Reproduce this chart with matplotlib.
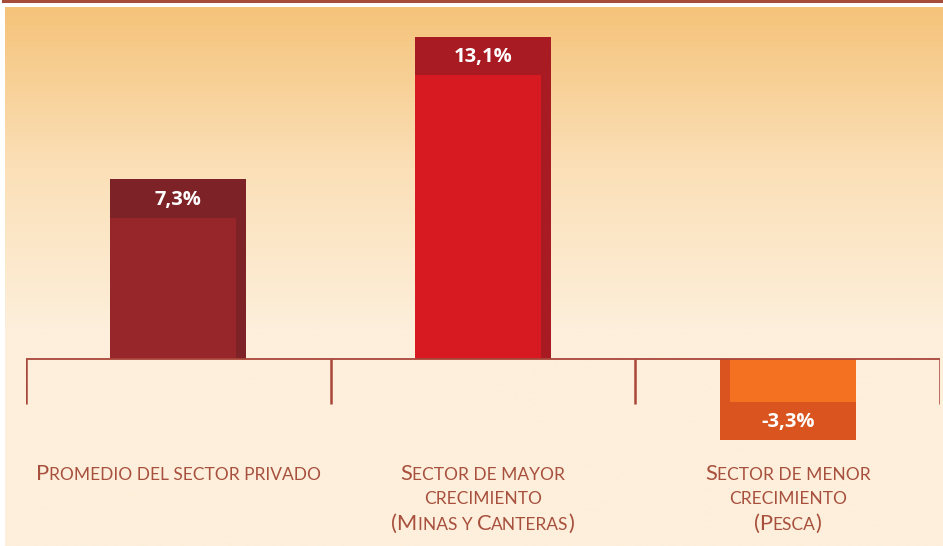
import matplotlib
matplotlib.use("Agg")
import matplotlib.pyplot as plt
import numpy as np
from matplotlib.colors import LinearSegmentedColormap
from matplotlib.offsetbox import TextArea, HPacker, VPacker, AnnotationBbox

# data
labels = [
    ["Promedio del sector privado"],
    ["Sector de mayor", "crecimiento", "(Minas y Canteras)"],
    ["Sector de menor", "crecimiento", "(Pesca)"],
]
values = [7.3, 13.1, -3.3]
value_text = ["7,3%", "13,1%", "-3,3%"]
head_colors = ["#7d2328", "#a81b22", "#da541f"]
body_colors = ["#962629", "#d71a21", "#f37121"]

W, H = 943, 546
fig = plt.figure(figsize=(W / 100, H / 100), dpi=100)
fig.patch.set_facecolor("white")

# background gradient panel
bg = fig.add_axes([5 / W, 0, 938 / W, 539 / H])
bg.set_axis_off()
grad = np.linspace(0, 1, 300).reshape(-1, 1)
grad = np.clip(grad / 0.6, 0, 1)
cmap = LinearSegmentedColormap.from_list("bg", ["#f5c37a", "#fbe0b8", "#fdefdb"])
bg.imshow(grad, aspect="auto", cmap=cmap, extent=[0, 1, 0, 1], origin="upper")
bg.set_xlim(0, 1)
bg.set_ylim(0, 1)

# top rule
fig.add_artist(plt.Line2D([3 / W, 1], [1 - 1.2 / H, 1 - 1.2 / H],
                          color="#a64c3b", lw=2.2))

# main axes, zero line at y=359 px, 24.6 px per unit
ppu = 24.6
zero_px = H - 359
ax = fig.add_axes([26 / W, 0, 914 / W, 1])
ax.set_axis_off()
ax.patch.set_alpha(0)
ax.set_xlim(-0.5, 2.5)
ax.set_ylim(-zero_px / ppu, (H - zero_px) / ppu)

x = np.arange(len(values))
width = 136 / 304.7
strip = 10 / 304.7
band = 38.5 / ppu

for xi, v, hc, bc, t in zip(x, values, head_colors, body_colors, value_text):
    s = np.sign(v)
    ax.bar(xi, v, width=width, color=hc, linewidth=0, zorder=2)
    ax.bar(xi - s * strip / 2, v - s * band, width=width - strip,
           color=bc, linewidth=0, zorder=3)
    ax.text(xi, v - s * band / 2 - 0.06, t, color="white", fontsize=14.5,
            fontweight="bold", family="Open Sans", ha="center",
            va="center", zorder=4)

# baseline and group ticks
line_c = "#a8463a"
edges = np.arange(len(values) + 1) - 0.5
ax.hlines(0, edges[0], edges[-1], color=line_c, lw=1.3, zorder=5)
ax.vlines(edges, -45 / ppu, 0, color=line_c, lw=1.8, zorder=5)


def small_caps(line, color, big=15.8, small=12.5):
    runs = []
    cur = ""
    cur_low = None
    for ch in line:
        low = ch.islower() or ch == " "
        if cur_low is None or low == cur_low:
            cur += ch
        else:
            runs.append((cur, cur_low))
            cur = ch
        cur_low = low
    runs.append((cur, cur_low))
    parts = []
    for txt, low in runs:
        parts.append(TextArea(txt.upper(), textprops=dict(
            fontsize=small if low else big, color=color, family="Lato")))
    return HPacker(children=parts, align="baseline", pad=0, sep=0)


lab_c = "#a8503e"
for xi, lines in zip(x, labels):
    box = VPacker(children=[small_caps(l, lab_c) for l in lines],
                  align="center", pad=0, sep=5)
    ab = AnnotationBbox(box, (xi, -(464 - 359) / ppu), xycoords="data",
                        box_alignment=(0.5, 1), frameon=False,
                        annotation_clip=False)
    ax.add_artist(ab)

fig.savefig("out.png", dpi=100)
